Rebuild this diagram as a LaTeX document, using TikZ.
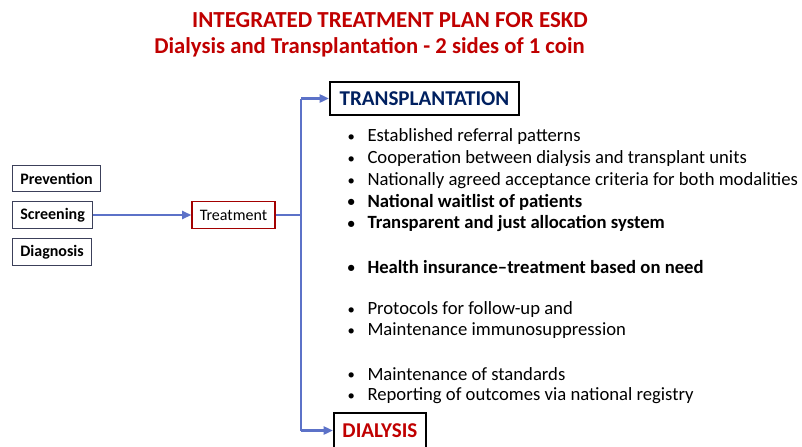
\documentclass[tikz,border=0pt]{standalone}
\usepackage{fontspec}
\setmainfont{Carlito}
\usetikzlibrary{arrows.meta}

\definecolor{titlered}{RGB}{192,0,0}
\definecolor{navytext}{RGB}{0,32,96}
\definecolor{flowblue}{RGB}{92,114,200}
\definecolor{boxgray}{RGB}{60,64,90}

\tikzset{every picture/.style={line width=0.75pt}}
\tikzset{
  stepbox/.style={draw=boxgray, line width=0.9pt, inner xsep=5.8pt, inner ysep=0pt, minimum height=20pt, anchor=west, font=\fontsize{12}{14}\selectfont\bfseries},
  headbox/.style={draw=black, line width=1.4pt, inner sep=0pt, anchor=west, font=\fontsize{15.8}{18}\selectfont\bfseries},
  flow/.style={draw=flowblue, line width=1.8pt},
  tip/.style={-{Triangle[length=7pt,width=6pt]}},
  bul/.style={anchor=west, inner sep=0pt, font=\fontsize{14}{16}\selectfont},
  bulb/.style={bul, font=\fontsize{14}{16}\selectfont\bfseries}
}
\newcommand{\dotitem}{\makebox[15pt][l]{\raisebox{0.5pt}{\fontsize{11}{11}\selectfont•}}}

\begin{document}
\begin{tikzpicture}[x=0.75pt,y=0.75pt,yscale=-1,xscale=1]
		\useasboundingbox (0,0) rectangle (802,446);
		
		%Titles
		\node (title) [text=titlered, font=\fontsize{17.2}{20}\selectfont\bfseries, inner sep=0pt] at (390,20) {INTEGRATED TREATMENT PLAN FOR ESKD};
		\node (subtitle) [text=titlered, font=\fontsize{17}{20}\selectfont\bfseries, inner sep=0pt] at (369.5,47) {Dialysis and Transplantation - 2 sides of 1 coin};
		
		%Left column
		\node (prev) [stepbox] at (12,178.5) {Prevention};
		\node (scr) [stepbox] at (12,215) {Screening};
		\node (diag) [stepbox] at (12,252) {Diagnosis};
		
		%Treatment
		\node (treat) [draw=titlered!85!black, line width=0.9pt, minimum width=62.25pt, minimum height=20.25pt, inner sep=0pt, font=\fontsize{12}{14}\selectfont] at (233.5,215) {Treatment};
		
		%Outcomes
		\node (tx) [headbox, text=navytext, minimum width=141.75pt, minimum height=24.75pt] at (329,98.5) {TRANSPLANTATION};
		\node (dial) [headbox, text=titlered, minimum width=69pt, minimum height=26.25pt] at (333,430.5) {DIALYSIS};
		
		%Connectors
		\coordinate (split) at (301,215);
		\coordinate (top) at (301,98.5);
		\coordinate (bot) at (301,430.5);
		\draw [flow, tip] (scr.east) -- (treat.west);
		\draw [flow] (treat.east) -- (split);
		\draw [flow] (top) -- (bot);
		\draw [flow, tip] (top) -- (tx.west);
		\draw [flow, tip] (bot) -- (dial.west);
		
		%Bullets
		\node (b1) [bul] at (347,137) {\dotitem Established referral patterns};
		\node (b2) [bul] at (347,159) {\dotitem Cooperation between dialysis and transplant units};
		\node (b3) [bul] at (347,181) {\dotitem Nationally agreed acceptance criteria for both modalities};
		\node (b4) [bulb] at (347,202) {\dotitem National waitlist of patients};
		\node (b5) [bulb] at (347,224) {\dotitem Transparent and just allocation system};
		\node (b6) [bulb] at (347,267) {\dotitem Health insurance–treatment based on need};
		\node (b7) [bul] at (347,310) {\dotitem Protocols for follow-up and};
		\node (b8) [bul] at (347,331) {\dotitem Maintenance immunosuppression};
		\node (b9) [bul] at (347,374) {\dotitem Maintenance of standards};
		\node (b10) [bul] at (347,396) {\dotitem Reporting of outcomes via national registry};
		
	\end{tikzpicture}
\end{document}
